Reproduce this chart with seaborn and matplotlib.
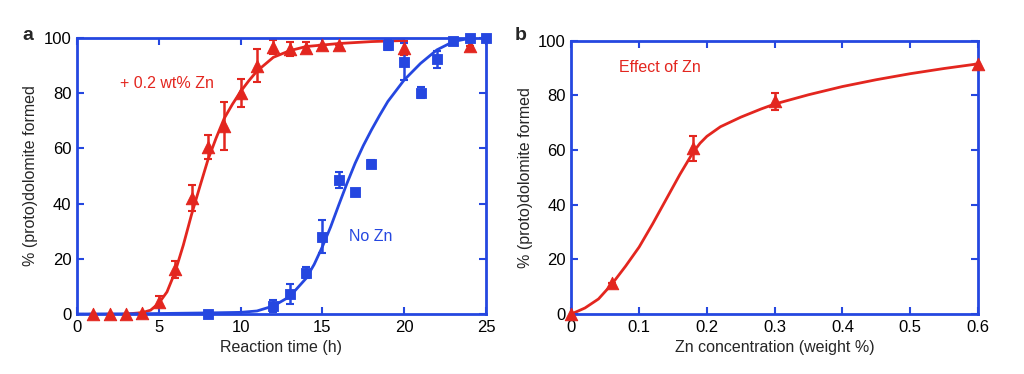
import numpy as np
import pandas as pd
import matplotlib
matplotlib.use("Agg")
import matplotlib.pyplot as plt
import seaborn as sns

RED = "#e3261f"
BLUE = "#2547e0"

# panel a: measured points
zn_time = [1, 2, 3, 4, 5, 6, 7, 8, 9, 10, 11, 12, 13, 14, 15, 16, 20, 24]
zn_val = [0, 0, 0, 0.5, 4.5, 16.2, 42, 60.4, 68, 80, 89.9, 96.8, 96, 96.5, 97.3, 97.3, 96.5, 97.2]
zn_err = [0, 0, 0, 0, 2, 3, 4.8, 4.4, 8.7, 5, 6, 2.5, 2.5, 2, 0, 0, 2.5, 0]

nozn_time = [8, 12, 13, 14, 15, 16, 17, 18, 19, 20, 21, 22, 23, 24, 25]
nozn_val = [0, 2.9, 7.1, 15, 28, 48.5, 44.3, 54.3, 97.6, 91.4, 80.2, 92.3, 99, 100, 100]
nozn_err = [0, 2, 3.6, 2, 6, 3, 0, 1.5, 2, 6.7, 2, 3, 0, 0, 0]

# panel a: fitted curves
zn_fit_t = [3, 4, 4.5, 5, 5.5, 6, 6.5, 7, 7.5, 8, 8.5, 9, 9.5, 10, 10.5, 11, 12, 13, 14, 16, 18, 20]
zn_fit_v = [0, 0.5, 1.4, 3.9, 8, 15.3, 25, 36, 46, 55.8, 63.7, 70.9, 76, 80.6, 84.5, 88, 93, 95.4, 96.9, 98, 98.7, 99.1]

nozn_fit_t = [0, 4, 8, 10, 11, 12, 13, 14, 14.5, 15, 15.5, 16, 16.5, 17, 17.5, 18, 18.5, 19, 20, 21, 22, 23, 24]
nozn_fit_v = [0, 0.1, 0.4, 0.6, 1.1, 2.9, 6.3, 12.9, 18, 24.4, 31.5, 39.5, 47.3, 54.6, 61, 66.7, 72, 77, 84.8, 90.8, 95.7, 98.7, 99.9]

# panel b
conc = [0, 0.06, 0.18, 0.3, 0.6]
conc_val = [0, 11.2, 60.6, 77.8, 91.5]
conc_err = [0, 0, 4.5, 3, 0]

conc_fit_x = [0, 0.02, 0.04, 0.06, 0.08, 0.1, 0.12, 0.14, 0.16, 0.18, 0.19, 0.2, 0.22, 0.25, 0.28, 0.3, 0.35, 0.4, 0.45, 0.5, 0.55, 0.6]
conc_fit_y = [0, 2.2, 5.5, 11, 17.5, 24.5, 33, 42, 51, 59.3, 62.5, 65, 68.5, 72, 75, 76.8, 80.2, 83.2, 85.7, 87.9, 89.8, 91.5]

sns.set_style("ticks")
plt.rcParams["font.family"] = ["Liberation Sans", "DejaVu Sans"]
plt.rcParams["font.size"] = 11

fig = plt.figure(figsize=(10.24, 3.74), dpi=100)
ax1 = fig.add_axes([0.0752, 0.1604, 0.3994, 0.738])
ax2 = fig.add_axes([0.558, 0.1604, 0.397, 0.731])


def style_axes(ax):
    for s in ax.spines.values():
        s.set_color(BLUE)
        s.set_linewidth(2)
    ax.tick_params(direction="in", length=5, width=1.5, color=BLUE,
                   top=True, right=True, labelsize=12, labelcolor="black", pad=4)


# panel a
sns.lineplot(x=zn_fit_t, y=zn_fit_v, ax=ax1, color=RED, lw=2)
sns.lineplot(x=nozn_fit_t, y=nozn_fit_v, ax=ax1, color=BLUE, lw=2)
ax1.errorbar(zn_time, zn_val, yerr=zn_err, fmt="none", ecolor=RED, elinewidth=1.8, capsize=3, capthick=1.5)
ax1.errorbar(nozn_time, nozn_val, yerr=nozn_err, fmt="none", ecolor=BLUE, elinewidth=1.8, capsize=3, capthick=1.5)
sns.scatterplot(x=zn_time, y=zn_val, ax=ax1, marker="^", color=RED, s=80, edgecolor=RED, zorder=5, clip_on=False)
sns.scatterplot(x=nozn_time, y=nozn_val, ax=ax1, marker="s", color=BLUE, s=60, edgecolor=BLUE, zorder=5, clip_on=False)
ax1.set_xlim(0, 25)
ax1.set_ylim(0, 100)
ax1.set_xticks([0, 5, 10, 15, 20, 25])
ax1.set_yticks([0, 20, 40, 60, 80, 100])
ax1.set_xlabel("Reaction time (h)", fontsize=11.5)
ax1.set_ylabel("% (proto)dolomite formed", fontsize=11.5)
ax1.text(2.6, 83.5, "+ 0.2 wt% Zn", color=RED, fontsize=11.5, va="center")
ax1.text(16.6, 28, "No Zn", color=BLUE, fontsize=11.5, va="center")
style_axes(ax1)

# panel b
sns.lineplot(x=conc_fit_x, y=conc_fit_y, ax=ax2, color=RED, lw=2)
ax2.errorbar(conc, conc_val, yerr=conc_err, fmt="none", ecolor=RED, elinewidth=1.8, capsize=3, capthick=1.5)
sns.scatterplot(x=conc, y=conc_val, ax=ax2, marker="^", color=RED, s=80, edgecolor=RED, zorder=5, clip_on=False)
ax2.set_xlim(0, 0.6)
ax2.set_ylim(0, 100)
ax2.set_xticks([0, 0.1, 0.2, 0.3, 0.4, 0.5, 0.6])
ax2.set_xticklabels(["0", "0.1", "0.2", "0.3", "0.4", "0.5", "0.6"])
ax2.set_yticks([0, 20, 40, 60, 80, 100])
ax2.set_xlabel("Zn concentration (weight %)", fontsize=11.5)
ax2.set_ylabel("% (proto)dolomite formed", fontsize=11.5)
ax2.text(0.071, 90, "Effect of Zn", color=RED, fontsize=11.5, va="center")
style_axes(ax2)

fig.text(0.022, 0.905, "a", fontsize=14, fontweight="bold", va="center")
fig.text(0.503, 0.905, "b", fontsize=14, fontweight="bold", va="center")

fig.savefig("out.png", dpi=100)
